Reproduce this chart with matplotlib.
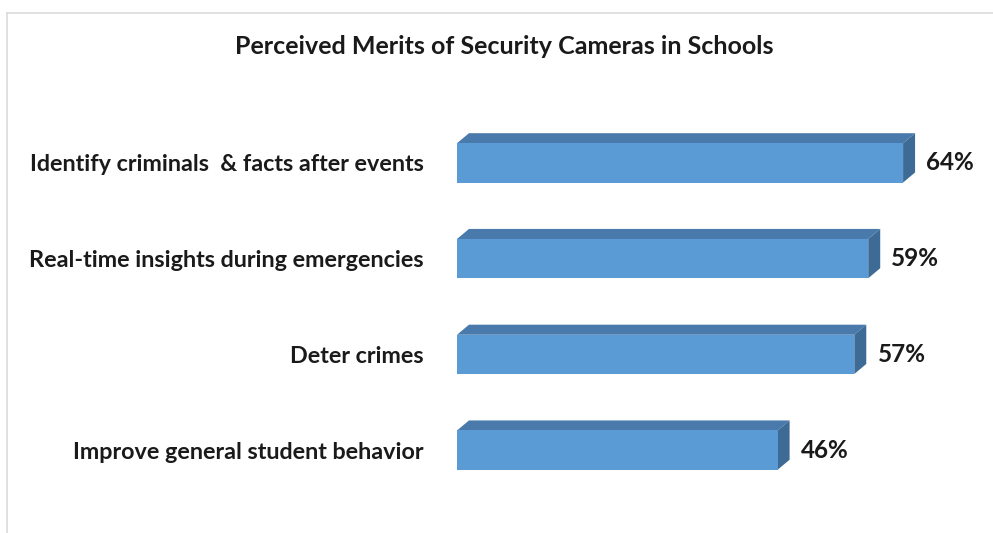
import matplotlib
matplotlib.use("Agg")
import matplotlib.pyplot as plt
from matplotlib.patches import Polygon
from matplotlib.lines import Line2D

plt.rcParams["font.family"] = ["Lato", "DejaVu Sans"]

# data
categories = ["Identify criminals  & facts after events",
              "Real-time insights during emergencies",
              "Deter crimes",
              "Improve general student behavior"]
values = [64, 59, 57, 46]
title = "Perceived Merits of Security Cameras in Schools"

front_col = "#5b9bd5"
top_col = "#4a7aab"
side_col = "#3e6a96"

fig = plt.figure(figsize=(9.93, 5.33), dpi=100)
ax = fig.add_axes([457 / 993, (533 - 498) / 533, 535 / 993, 383 / 533])

y = list(range(len(values)))
h = 0.41          # bar thickness (front face)
dx, dy = 1.72, 0.105  # 3d depth in data units

ax.barh(y, values, height=h, color=front_col, edgecolor="none", zorder=3)
for yi, v in zip(y, values):
    top = yi - h / 2
    bot = yi + h / 2
    # top face
    ax.add_patch(Polygon([(0, top), (dx, top - dy), (v + dx, top - dy), (v, top)],
                         closed=True, facecolor=top_col, edgecolor="none", zorder=2))
    # side face
    ax.add_patch(Polygon([(v, top), (v + dx, top - dy), (v + dx, bot - dy), (v, bot)],
                         closed=True, facecolor=side_col, edgecolor="none", zorder=2))
    ax.text(v + dx + 1.6, yi, f"{v}%", va="center", ha="left",
            fontsize=17.5, fontweight="bold", color="#1a1a1a")

ax.set_xlim(0, 535 / 6.97)
ax.set_ylim(len(values) - 0.5, -0.5)
ax.set_yticks(y)
ax.set_yticklabels(categories, fontsize=16.8, fontweight="bold", color="#1a1a1a")
ax.tick_params(axis="y", length=0, pad=24)
ax.set_xticks([])
for s in ax.spines.values():
    s.set_visible(False)

fig.text(504 / 993, 1 - 47 / 533, title, ha="center", va="center",
         fontsize=18, fontweight="bold", color="#1a1a1a")

# light frame of the chart area
fig.add_artist(Line2D([7 / 993, 7 / 993], [0, 1 - 13 / 533], color="#dadada", lw=1.2))
fig.add_artist(Line2D([7 / 993, 1], [1 - 13 / 533, 1 - 13 / 533], color="#dadada", lw=1.2))

fig.savefig("out.png", dpi=100)
